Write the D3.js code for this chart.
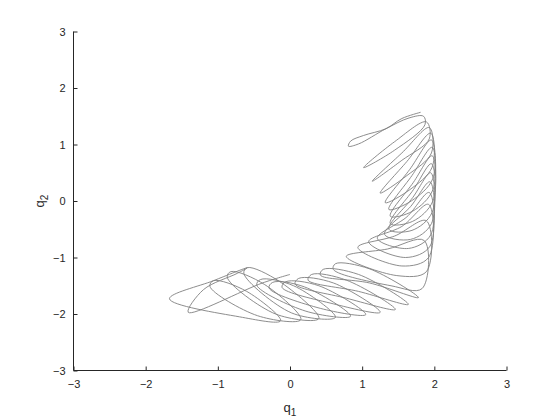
<!DOCTYPE html>
<head>
  <meta charset="utf-8">
  <title>q1 / q2 trajectory</title>
  <script src="https://d3js.org/d3.v7.min.js"></script>
  <style>
    body { margin: 0; background: #fff; }
    text { font-family: "Liberation Sans", Arial, sans-serif; fill: #262626; }
  </style>
</head>
<body>
<svg width="560" height="420"></svg>
<script>

// Axis ticks (same for both axes)
var ticks = [-3, -2, -1, 0, 1, 2, 3];

// Trajectory, one loop per row (q1 values, then q2 values)
var q1 = [
  // top figure-eight
  1.81, 1.55, 1.33, 1.02, 0.84, 0.81, 0.95, 1.33, 1.65, 1.85, 1.87, 1.45,
  // right arm: inner tip, outer side, outer tip, down the edge, back side
  1.02, 1.45, 1.89, 1.93, 1.55,
  1.14, 1.55, 1.93, 1.96, 1.62,
  1.25, 1.62, 1.95, 1.97, 1.66,
  1.32, 1.66, 1.96, 1.98, 1.68,
  1.37, 1.69, 1.97, 1.98, 1.70,
  1.39, 1.71, 1.97, 1.98, 1.70,
  1.39, 1.71, 1.96, 1.97, 1.69,
  1.37, 1.70, 1.95, 1.96, 1.67,
  1.31, 1.67, 1.94, 1.95, 1.64,
  1.21, 1.62, 1.93, 1.94, 1.60,
  1.09, 1.55, 1.92, 1.92, 1.55,
  0.94, 1.45, 1.89, 1.89, 1.48,
  0.78, 1.35, 1.86, 1.83, 1.40,
  // corner and bottom arm: cap, upper-left end, top side, lower-right end, under side
  0.60, 0.63, 1.10, 1.78, 1.10,
  0.42, 0.46, 0.95, 1.64, 0.95,
  0.25, 0.30, 0.78, 1.46, 0.78,
  0.07, 0.12, 0.60, 1.25, 0.60,
  -0.11, -0.06, 0.40, 1.05, 0.42,
  -0.29, -0.24, 0.20, 0.84, 0.22,
  -0.46, -0.41, 0.05, 0.63, 0.02,
  -0.64, -0.59, -0.15, 0.40, -0.20,
  -0.87, -0.82, -0.35, 0.15, -0.45,
  -1.11, -1.06, -0.60, -0.13, -0.70,
  // far left end
  -1.67, -1.06, -0.59, -0.73, -1.20, -1.41, -0.38, 0.00
];
var q2 = [
  1.57, 1.46, 1.28, 1.16, 1.06, 0.97, 1.01, 1.28, 1.47, 1.50, 1.35, 0.90,
  0.59, 1.05, 1.40, 1.10, 0.72,
  0.35, 0.85, 1.30, 0.85, 0.45,
  0.14, 0.70, 1.20, 0.60, 0.20,
  -0.03, 0.56, 1.08, 0.40, 0.00,
  -0.15, 0.45, 0.95, 0.20, -0.18,
  -0.27, 0.33, 0.80, 0.00, -0.36,
  -0.40, 0.20, 0.66, -0.20, -0.52,
  -0.50, 0.06, 0.50, -0.40, -0.68,
  -0.59, -0.10, 0.34, -0.60, -0.84,
  -0.66, -0.28, 0.15, -0.80, -1.00,
  -0.72, -0.45, -0.06, -1.00, -1.15,
  -0.82, -0.62, -0.35, -1.25, -1.32,
  -0.98, -0.85, -0.70, -1.55, -1.50,
  -1.21, -1.11, -1.20, -1.71, -1.45,
  -1.31, -1.21, -1.30, -1.83, -1.60,
  -1.40, -1.30, -1.40, -1.92, -1.72,
  -1.47, -1.37, -1.45, -1.97, -1.82,
  -1.53, -1.43, -1.50, -2.01, -1.90,
  -1.54, -1.44, -1.52, -2.04, -1.95,
  -1.49, -1.39, -1.50, -2.06, -1.98,
  -1.28, -1.18, -1.42, -2.08, -2.00,
  -1.35, -1.25, -1.48, -2.10, -2.03,
  -1.51, -1.41, -1.60, -2.12, -2.05,
  -1.73, -1.41, -1.18, -1.28, -1.57, -1.97, -1.45, -1.30
];

var points = q1.map(function(d, i) { return [d, q2[i]]; });

var svg = d3.select("svg");

// MATLAB-like axes box: left 73, right 506, top 32, bottom 370
var x = d3.scaleLinear().domain([-3, 3]).range([73.5, 506.5]);
var y = d3.scaleLinear().domain([-3, 3]).range([370.5, 31.5]);

// the trajectory
var line = d3.line()
    .x(function(d) { return x(d[0]); })
    .y(function(d) { return y(d[1]); })
    .curve(d3.curveCatmullRom.alpha(0.5));

svg.append("path")
    .datum(points)
    .attr("d", line)
    .attr("fill", "none")
    .attr("stroke", "#808080")
    .attr("stroke-width", 0.9);

// axes, ticks pointing inward
var xAxis = svg.append("g")
    .attr("transform", "translate(0,370.5)")
    .call(d3.axisBottom(x).tickValues(ticks).tickSize(-4).tickPadding(10).tickFormat(d3.format("d")));
var yAxis = svg.append("g")
    .attr("transform", "translate(73.5,0)")
    .call(d3.axisLeft(y).tickValues(ticks).tickSize(-4).tickPadding(8).tickFormat(d3.format("d")));

[xAxis, yAxis].forEach(function(g) {
  g.selectAll(".tick line").attr("stroke", "#262626");
  g.selectAll("text").attr("font-size", 11).attr("fill", "#262626")
    .attr("font-family", "'Liberation Sans', Arial, sans-serif");
});
// plain axis lines, no end caps
xAxis.select(".domain").attr("stroke", "#262626").attr("d", "M73.5,0H506.5");
yAxis.select(".domain").attr("stroke", "#262626").attr("d", "M0,31.5V370.5");

// axis labels with subscripts
var xl = svg.append("text")
    .attr("x", 290).attr("y", 412)
    .attr("text-anchor", "middle").attr("font-size", 13);
xl.append("tspan").text("q");
xl.append("tspan").attr("font-size", 10).attr("dy", 4).text("1");

var yl = svg.append("text")
    .attr("transform", "translate(44,201) rotate(-90)")
    .attr("text-anchor", "middle").attr("font-size", 13);
yl.append("tspan").text("q");
yl.append("tspan").attr("font-size", 10).attr("dy", 4).text("2");

</script>
</body>
</html>
